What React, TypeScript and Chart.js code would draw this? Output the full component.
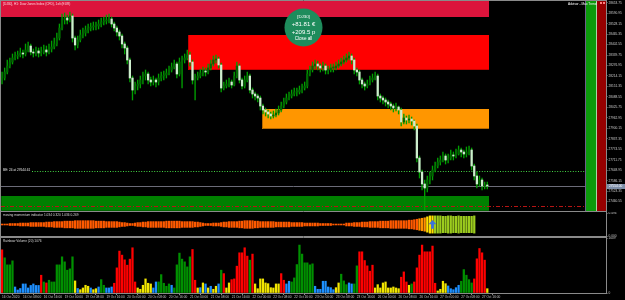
import React, { useEffect, useRef } from "react";
import { Chart, registerables } from "chart.js";

Chart.register(...registerables);

// ---------------- data ----------------
const timeLabels = [
  "16 Oct 2020", "16 Oct 08:00", "16 Oct 16:00", "19 Oct 00:00", "19 Oct 08:00", "19 Oct 16:00",
  "20 Oct 00:00", "20 Oct 08:00", "20 Oct 16:00", "21 Oct 00:00", "21 Oct 08:00", "21 Oct 16:00",
  "22 Oct 00:00", "22 Oct 08:00", "22 Oct 16:00", "23 Oct 00:00", "23 Oct 08:00", "23 Oct 16:00",
  "26 Oct 00:00", "26 Oct 08:00", "26 Oct 16:00", "27 Oct 00:00", "27 Oct 08:00", "27 Oct 16:00",
];
const barsPerTimeLabel = 8;

const priceTicks = [
  27460.55, 27523.35, 27586.15, 27648.95, 27711.75, 27774.55, 27837.35, 27900.15, 27962.95, 28025.75,
  28088.55, 28151.35, 28214.15, 28276.95, 28339.75, 28402.55, 28465.35, 28528.15, 28590.95, 28653.75,
];
const priceMin = 27404;
const priceMax = 28664;

const firstOpen = 28190;
const closes = [
  28202, 28238, 28274, 28298, 28322, 28334, 28340, 28352, 28346, 28370,
  28394, 28358, 28352, 28364, 28352, 28358, 28370, 28358, 28376, 28388,
  28406, 28442, 28502, 28550, 28562, 28550, 28574, 28442, 28400, 28430,
  28460, 28472, 28490, 28502, 28508, 28514, 28514, 28526, 28538, 28544,
  28550, 28556, 28526, 28502, 28478, 28454, 28406, 28382, 28310, 28202,
  28130, 28154, 28166, 28190, 28214, 28226, 28190, 28178, 28190, 28178,
  28202, 28214, 28220, 28232, 28250, 28268, 28286, 28226, 28298, 28310,
  28322, 28340, 28298, 28190, 28202, 28214, 28232, 28244, 28238, 28262,
  28286, 28310, 28316, 28280, 28142, 28154, 28166, 28178, 28160, 28214,
  28274, 28190, 28154, 28190, 28214, 28130, 28106, 28094, 28082, 28034,
  28010, 27998, 27986, 27974, 27980, 27992, 28010, 28034, 28058, 28082,
  28094, 28106, 28118, 28118, 28130, 28142, 28154, 28226, 28250, 28274,
  28286, 28274, 28262, 28274, 28250, 28250, 28262, 28262, 28274, 28286,
  28298, 28310, 28322, 28334, 28310, 28250, 28238, 28190, 28166, 28154,
  28166, 28190, 28202, 28214, 28094, 28082, 28070, 28058, 28046, 28034,
  28022, 28028, 28010, 27938, 27962, 27950, 27956, 27944, 27914, 27722,
  27638, 27566, 27542, 27590, 27614, 27650, 27674, 27698, 27710, 27734,
  27710, 27722, 27740, 27734, 27746, 27770, 27758, 27746, 27758, 27770,
  27674, 27614, 27566, 27590, 27554, 27560, 27554,
];
const highs = [
  28238, 28262, 28310, 28322, 28346, 28358, 28364, 28382, 28370, 28406,
  28418, 28406, 28376, 28388, 28382, 28388, 28400, 28394, 28406, 28424,
  28442, 28472, 28526, 28586, 28592, 28580, 28598, 28586, 28454, 28454,
  28490, 28502, 28514, 28526, 28532, 28538, 28538, 28550, 28562, 28568,
  28580, 28586, 28568, 28538, 28514, 28490, 28466, 28418, 28394, 28322,
  28214, 28178, 28190, 28214, 28238, 28250, 28238, 28208, 28214, 28202,
  28226, 28238, 28244, 28256, 28274, 28292, 28310, 28298, 28322, 28334,
  28346, 28370, 28358, 28310, 28226, 28238, 28256, 28268, 28262, 28286,
  28310, 28334, 28340, 28328, 28292, 28178, 28190, 28202, 28190, 28238,
  28298, 28286, 28202, 28214, 28238, 28226, 28142, 28118, 28106, 28094,
  28046, 28022, 28010, 27998, 28004, 28016, 28034, 28058, 28082, 28106,
  28118, 28130, 28142, 28142, 28154, 28166, 28178, 28250, 28274, 28298,
  28310, 28304, 28286, 28298, 28286, 28274, 28286, 28286, 28298, 28310,
  28322, 28334, 28346, 28358, 28346, 28322, 28262, 28250, 28202, 28178,
  28190, 28214, 28226, 28238, 28226, 28106, 28094, 28082, 28070, 28058,
  28046, 28052, 28034, 28022, 27986, 27974, 27980, 27968, 27950, 27926,
  27734, 27650, 27590, 27614, 27638, 27674, 27698, 27722, 27734, 27758,
  27746, 27746, 27770, 27758, 27776, 27794, 27782, 27770, 27788, 27794,
  27782, 27686, 27638, 27614, 27602, 27578, 27578,
];
const lows = [
  28166, 28190, 28226, 28262, 28286, 28310, 28316, 28328, 28322, 28334,
  28358, 28340, 28328, 28334, 28328, 28334, 28346, 28334, 28346, 28358,
  28376, 28394, 28430, 28490, 28526, 28526, 28538, 28418, 28370, 28382,
  28418, 28442, 28454, 28472, 28484, 28490, 28490, 28496, 28508, 28520,
  28526, 28532, 28508, 28484, 28454, 28430, 28382, 28346, 28286, 28178,
  28070, 28106, 28130, 28142, 28166, 28190, 28166, 28154, 28160, 28148,
  28160, 28184, 28190, 28202, 28220, 28238, 28256, 28202, 28214, 28142,
  28292, 28310, 28274, 28166, 28070, 28190, 28202, 28214, 28214, 28226,
  28250, 28274, 28292, 28262, 28118, 28130, 28142, 28148, 28142, 28154,
  28202, 28172, 28136, 28142, 28178, 28112, 28082, 28070, 28058, 28010,
  27986, 27974, 27962, 27956, 27962, 27968, 27980, 27998, 28022, 28046,
  28070, 28082, 28094, 28094, 28106, 28112, 28130, 28142, 28214, 28238,
  28256, 28250, 28238, 28244, 28226, 28226, 28238, 28238, 28250, 28262,
  28274, 28286, 28298, 28310, 28286, 28226, 28214, 28166, 28142, 28130,
  28142, 28160, 28178, 28190, 28070, 28058, 28046, 28034, 28022, 28010,
  27998, 28004, 27986, 27914, 27926, 27926, 27932, 27920, 27890, 27698,
  27602, 27530, 27410, 27518, 27566, 27590, 27638, 27662, 27680, 27698,
  27686, 27692, 27710, 27710, 27722, 27740, 27728, 27722, 27728, 27740,
  27650, 27590, 27542, 27554, 27530, 27536, 27536,
];

const volumes = [
  1264, 1029, 823, 823, 941, 176, 88, 132, 265, 265,
  147, 221, 265, 221, 221, 520, 323, 294, 373, 323,
  323, 823, 823, 1058, 911, 667, 706, 1058, 353, 132,
  97, 147, 226, 197, 147, 97, 126, 176, 391, 226,
  147, 147, 176, 285, 735, 1226, 1108, 970, 814, 991,
  1323, 323, 147, 109, 226, 412, 285, 265, 147, 323,
  323, 538, 285, 197, 265, 226, 147, 823, 1167, 991,
  911, 764, 1058, 1273, 373, 147, 156, 294, 265, 147,
  197, 109, 197, 265, 667, 567, 147, 294, 391, 412,
  785, 1176, 1176, 1323, 1079, 961, 1138, 265, 126, 412,
  412, 294, 273, 156, 147, 265, 265, 567, 373, 265,
  344, 323, 441, 832, 1402, 1138, 882, 882, 823, 853,
  197, 109, 109, 344, 344, 176, 156, 97, 156, 294,
  550, 353, 244, 294, 265, 265, 794, 1205, 1205, 950,
  794, 638, 814, 147, 244, 147, 294, 323, 147, 147,
  176, 147, 126, 462, 617, 323, 226, 265, 323, 735,
  1108, 1402, 1205, 1205, 1205, 1373, 285, 59, 109, 344,
  273, 206, 126, 97, 156, 226, 344, 685, 520, 391,
  294, 412, 1000, 1302, 1176, 961, 126,
];
// r = red, g = green, y = yellow, b = blue
const volumeColorCodes = [
  "rgggg", "bbbbbbbbbb", "rgr", "gggggggggg", "ybyyyybyyb", "ggbbb", "rrrrrrrrr", "yyyyyy",
  "bb", "ggggg", "b", "ggggggg", "rr", "ybybyb", "yyb", "gr", "yy", "rrrrrrr", "gr",
  "yyyyyyyyyy", "rr", "bb", "ggggggggg", "bbbbbbbb", "yy", "ggg", "bb", "gg", "rrrrrr",
  "yyyyyyyyyy", "rrr", "yg", "rrrrrrrrr", "yyyy", "bbbbb", "ggggg", "rrrrr", "y",
].join("");
const volumeAxisMax = 1609;

const momentum = [
  0.010, 0.010, 0.010, 0.021, 0.021, 0.021, 0.021, 0.031, 0.031, 0.031,
  0.031, 0.041, 0.041, 0.041, 0.041, 0.041, 0.041, 0.052, 0.052, 0.052,
  0.062, 0.062, 0.062, 0.062, 0.072, 0.072, 0.072, 0.072, 0.082, 0.082,
  0.082, 0.082, 0.082, 0.082, 0.082, 0.082, 0.072, 0.072, 0.072, 0.072,
  0.062, 0.062, 0.062, 0.062, 0.062, 0.052, 0.041, 0.041, 0.031, 0.021,
  0.021, 0.031, 0.041, 0.041, 0.052, 0.052, 0.062, 0.062, 0.062, 0.062,
  0.062, 0.062, 0.062, 0.072, 0.072, 0.072, 0.072, 0.072, 0.072, 0.062,
  0.062, 0.062, 0.062, 0.062, 0.052, 0.052, 0.041, 0.031, 0.021, 0.021,
  0.021, 0.031, 0.031, 0.031, 0.041, 0.052, 0.052, 0.062, 0.062, 0.062,
  0.062, 0.072, 0.072, 0.082, 0.082, 0.082, 0.082, 0.072, 0.072, 0.062,
  0.062, 0.062, 0.062, 0.062, 0.062, 0.052, 0.052, 0.052, 0.052, 0.052,
  0.052, 0.041, 0.041, 0.041, 0.041, 0.041, 0.031, 0.031, 0.031, 0.031,
  0.031, 0.031, 0.021, 0.021, 0.021, 0.021, 0.021, 0.010, 0.010, 0.010,
  0.010, 0.010, 0.031, 0.031, 0.031, 0.041, 0.041, 0.041, 0.052, 0.052,
  0.052, 0.062, 0.062, 0.062, 0.062, 0.072, 0.072, 0.072, 0.072, 0.082,
  0.082, 0.082, 0.082, 0.082, 0.082, 0.082, 0.093, 0.093, 0.103, 0.113,
  0.124, 0.134, 0.144, 0.165, 0.185, 0.185, 0.185, 0.185, 0.185, 0.175,
  0.175, 0.185, 0.185, 0.175, 0.175, 0.185, 0.175, 0.175, 0.175, 0.175,
  0.175, 0.185, 0, 0, 0, 0, 0,
];
// o = orange, a = amber, y = yellow, g = yellow-green, - = none
const momentumToneRuns: [string, number][] = [["o", 160], ["a", 3], ["y", 3], ["g", 16], ["-", 5]];
const momentumAxisMax = 0.494;
const signalArrowBar = 165;

const zoneStartBars = [-0.4, 71.2, 99.5, -0.4];
const zoneEndBars = [186.6, 186.6, 186.6, 186.6];
const zoneHighs = [28664, 28460, 28016, 27497];
const zoneLows = [28566, 28250, 27894, 27404];

const breakEvenPrice = 27644.61;
const breakEvenLots = 24;
const stopPrice = 27434;

const chartTitle = "[DJ30], H1: Dow Jones Index (CFD), 1xlt (EUR)";
const advisorTitle = "Advisor - Max Trend";
const momentumTitle = "moving momentum indicator 1.034 0.320 1.036 0.269";
const volumeTitle = "Rainbow Volume (20) 1076";
const bubbleLines = ["[DJ30]", "+81.81 \u20ac", "+209.5 p", "Close all"];

const barMin = -0.4;
const barMax = 231.5;

// ---------------- styles ----------------
const FONT = "'Liberation Sans', Arial, sans-serif";
const SMALL = 3.2;
const TICK_COLOR = "#c8c8c8";
const FRAME = "#8a8a8a";
const BULL = "#006a00";
const BEAR = "#cdeecd";
const WICK = "#00a000";
const ZONE_FILLS = ["#dc143c", "#ff0000", "#ff9600", "#008000"];
const ZONE_EDGES = [null, "#c80000", "#b86a00", "#006400"];
const VOLUME_COLORS: Record<string, string> = { r: "#ff0000", g: "#009000", y: "#f2e600", b: "#1e90ff" };
const TONE_COLORS: Record<string, string> = { o: "#ff5a00", a: "#ff9000", y: "#ffe000", g: "#9ccc1e" };
const AXIS_WIDTH = 19;

Chart.defaults.font.family = FONT;

function frameLines(ctx: any, a: any, withTop: boolean) {
  ctx.save();
  ctx.strokeStyle = FRAME;
  ctx.lineWidth = 1;
  ctx.beginPath();
  ctx.moveTo(0, a.bottom + 0.5);
  ctx.lineTo(a.right + 1, a.bottom + 0.5);
  ctx.moveTo(a.right + 0.5, 0);
  ctx.lineTo(a.right + 0.5, a.bottom + 1);
  ctx.moveTo(0.5, 0);
  ctx.lineTo(0.5, a.bottom + 1);
  if (withTop) {
    ctx.moveTo(0, 0.5);
    ctx.lineTo(a.right + 1, 0.5);
  }
  ctx.stroke();
  ctx.restore();
}

const mainOverlay = {
  id: "mainOverlay",
  beforeDatasetsDraw(chart: any) {
    const { ctx, chartArea: a, scales } = chart;
    const xs = scales.x;
    const ys = scales.y;
    ctx.save();
    ctx.beginPath();
    ctx.rect(a.left, a.top, a.right - a.left, a.bottom - a.top);
    ctx.clip();
    for (let k = 0; k < zoneStartBars.length; k++) {
      const x0 = Math.max(a.left, Math.round(xs.getPixelForValue(zoneStartBars[k])));
      const x1 = Math.round(xs.getPixelForValue(zoneEndBars[k]));
      const y0 = Math.round(ys.getPixelForValue(zoneHighs[k]));
      const y1 = Math.round(ys.getPixelForValue(zoneLows[k]));
      ctx.fillStyle = ZONE_FILLS[k];
      ctx.fillRect(x0, y0, x1 - x0, y1 - y0);
      const edge = ZONE_EDGES[k];
      if (edge) {
        ctx.strokeStyle = edge;
        ctx.lineWidth = 1;
        ctx.beginPath();
        ctx.moveTo(x0 + 0.5, y0);
        ctx.lineTo(x0 + 0.5, y1 - 0.5);
        ctx.lineTo(x1, y1 - 0.5);
        ctx.stroke();
      }
    }
    const lineEnd = a.right - 20;
    const hLine = (price: number, color: string, dash: number[], fromX: number) => {
      const yy = Math.round(ys.getPixelForValue(price)) + 0.5;
      ctx.strokeStyle = color;
      ctx.lineWidth = 1;
      ctx.setLineDash(dash);
      ctx.beginPath();
      ctx.moveTo(fromX, yy);
      ctx.lineTo(lineEnd, yy);
      ctx.stroke();
      ctx.setLineDash([]);
    };
    hLine(breakEvenPrice, "#45d645", [1, 1.6], a.left + 31);
    hLine(closes[closes.length - 1], "#6b6b78", [], a.left);
    hLine(stopPrice, "#b81414", [4, 2, 1, 2], a.left);
    ctx.restore();
  },
  afterDatasetsDraw(chart: any) {
    const { ctx, chartArea: a, scales } = chart;
    const ys = scales.y;
    ctx.save();
    ctx.textBaseline = "middle";
    ctx.textAlign = "left";
    ctx.font = `${SMALL}px ${FONT}`;
    ctx.fillStyle = "#ffd2dc";
    ctx.fillText(chartTitle, a.left + 2, 3.8);
    const beY = Math.round(ys.getPixelForValue(breakEvenPrice));
    ctx.fillStyle = "#e8e8e8";
    ctx.fillText(`BE: ${breakEvenLots} at ${breakEvenPrice.toFixed(2)}`, a.left + 2, beY - 0.8);

    // result bubble
    const cx = 303.5;
    const cy = 27.5;
    ctx.fillStyle = "#1e8c5c";
    ctx.beginPath();
    ctx.arc(cx, cy, 19, 0, Math.PI * 2);
    ctx.fill();
    ctx.fillStyle = "#ffffff";
    ctx.textAlign = "center";
    const sizes = [4.4, 6, 6, 4.6];
    const offs = [-10.8, -3.5, 4.8, 11.6];
    bubbleLines.forEach((t, k) => {
      ctx.font = `${sizes[k]}px ${FONT}`;
      ctx.fillText(t, cx, cy + offs[k]);
    });
    ctx.restore();
  },
  afterDraw(chart: any) {
    const { ctx, chartArea: a, scales } = chart;
    const W = chart.width;
    const r = W - AXIS_WIDTH; // right edge of the plot
    const top = 0;
    const h = a.bottom;
    ctx.save();
    ctx.globalAlpha = 1;
    ctx.globalCompositeOperation = "source-over";
    // advisor panel bands
    ctx.fillStyle = "rgb(110,95,138)";
    ctx.fillRect(r - 21, top, 1, h);
    ctx.fillStyle = "rgb(12,154,12)";
    ctx.fillRect(r - 20, top, 10, h);
    ctx.fillStyle = "rgb(166,216,166)";
    ctx.fillRect(r - 10, top, 1, h);
    ctx.fillStyle = "rgb(150,0,0)";
    ctx.fillRect(r - 9, top, 9, h);
    ctx.fillStyle = "#ffffff";
    ctx.font = `${SMALL}px ${FONT}`;
    ctx.textBaseline = "middle";
    ctx.textAlign = "left";
    ctx.fillText(advisorTitle, r - 38, 4.2);
    ctx.fillStyle = "#ff8080";
    ctx.fillRect(r - 6, 2, 2, 2);
    ctx.fillRect(r - 3, 2, 2, 2);
    ctx.restore();

    frameLines(ctx, a, true);
    const last = closes[closes.length - 1];
    const yy = Math.round(scales.y.getPixelForValue(last)) + 0.5;
    ctx.save();
    ctx.fillStyle = "#7d8ea8";
    ctx.fillRect(a.right + 1, yy - 2.5, W - a.right - 1, 5);
    ctx.fillStyle = "#ffffff";
    ctx.font = `${SMALL}px ${FONT}`;
    ctx.textBaseline = "middle";
    ctx.fillText(last.toFixed(2), a.right + 3, yy);
    ctx.restore();
  },
};

const momentumOverlay = {
  id: "momentumOverlay",
  afterDatasetsDraw(chart: any) {
    const { ctx, chartArea: a, scales } = chart;
    const ax = scales.x.getPixelForValue(signalArrowBar);
    const ay = scales.y.getPixelForValue(momentumAxisMax / 2);
    ctx.save();
    ctx.fillStyle = "#3c74dc";
    ctx.beginPath();
    ctx.moveTo(ax, ay - 4.6);
    ctx.lineTo(ax + 3.8, ay - 0.2);
    ctx.lineTo(ax + 1.4, ay - 0.2);
    ctx.lineTo(ax + 1.4, ay + 4.2);
    ctx.lineTo(ax - 1.4, ay + 4.2);
    ctx.lineTo(ax - 1.4, ay - 0.2);
    ctx.lineTo(ax - 3.8, ay - 0.2);
    ctx.closePath();
    ctx.fill();
    ctx.font = `${SMALL}px ${FONT}`;
    ctx.fillStyle = "#d8d8d8";
    ctx.textBaseline = "middle";
    ctx.fillText(momentumTitle, a.left + 2, 3.3);
    ctx.restore();
  },
  afterDraw(chart: any) {
    frameLines(chart.ctx, chart.chartArea, false);
  },
};

const volumeOverlay = {
  id: "volumeOverlay",
  afterDatasetsDraw(chart: any) {
    const { ctx, chartArea: a } = chart;
    ctx.save();
    ctx.font = `${SMALL}px ${FONT}`;
    ctx.fillStyle = "#d8d8d8";
    ctx.textBaseline = "middle";
    ctx.fillText(volumeTitle, a.left + 2, 4.2);
    ctx.restore();
  },
  afterDraw(chart: any) {
    frameLines(chart.ctx, chart.chartArea, true);
  },
};

function xAxis(display: boolean): any {
  const base: any = { type: "linear", min: barMin, max: barMax, offset: false, display, bounds: "data" };
  if (!display) return base;
  return {
    ...base,
    position: "bottom",
    afterBuildTicks: (s: any) => {
      s.ticks = timeLabels.map((_, k) => ({ value: k * barsPerTimeLabel }));
    },
    afterFit: (s: any) => {
      s.height = 7;
      s.paddingLeft = 0;
      s.paddingRight = 0;
    },
    ticks: {
      autoSkip: false,
      maxRotation: 0,
      minRotation: 0,
      align: "start",
      font: { size: SMALL },
      color: TICK_COLOR,
      padding: 0.5,
      callback: (v: any) => timeLabels[Math.round(Number(v) / barsPerTimeLabel)] ?? "",
    },
    grid: { display: true, drawOnChartArea: false, drawTicks: true, tickLength: 2, color: FRAME },
    border: { display: false },
  };
}

function yAxis(min: number, max: number, tickValues: number[], fmt: (v: number) => string): any {
  return {
    type: "linear",
    position: "right",
    min,
    max,
    bounds: "data",
    beginAtZero: false,
    afterBuildTicks: (s: any) => {
      s.ticks = tickValues.map((v) => ({ value: v }));
    },
    afterFit: (s: any) => {
      s.width = AXIS_WIDTH;
      s.paddingTop = 0;
      s.paddingBottom = 0;
    },
    ticks: { autoSkip: false, font: { size: SMALL }, color: TICK_COLOR, padding: 1, callback: (v: any) => fmt(Number(v)) },
    grid: { drawOnChartArea: false, drawTicks: true, tickLength: 1.5, color: FRAME },
    border: { display: false },
  };
}

const commonOptions = {
  animation: false,
  responsive: false,
  events: [],
  plugins: { legend: { display: false }, tooltip: { enabled: false } },
};

export default function App() {
  const mainRef = useRef<HTMLCanvasElement>(null);
  const momRef = useRef<HTMLCanvasElement>(null);
  const volRef = useRef<HTMLCanvasElement>(null);

  useEffect(() => {
    const opens = closes.map((c, i) => (i === 0 ? firstOpen : closes[i - 1]));
    const bodyData = closes.map((c, i) => ({ x: i, y: [opens[i], c] }));
    const wickData = closes.map((c, i) => ({
      x: i,
      y: [Math.min(lows[i], opens[i], c), Math.max(highs[i], opens[i], c)],
    }));
    const bodyColors = closes.map((c, i) => (c >= opens[i] ? BULL : BEAR));

    const main = new Chart(mainRef.current as HTMLCanvasElement, {
      type: "bar",
      data: {
        datasets: [
          { data: bodyData, backgroundColor: bodyColors, barThickness: 1.6, grouped: false, minBarLength: 1, order: 0 } as any,
          { data: wickData, backgroundColor: WICK, barThickness: 0.7, grouped: false, order: 1 } as any,
        ],
      },
      options: {
        ...commonOptions,
        layout: { padding: { top: 1, bottom: 1, left: 1, right: 0 } },
        scales: {
          x: xAxis(false),
          y: yAxis(priceMin, priceMax, priceTicks, (v) => v.toFixed(2)),
        },
      } as any,
      plugins: [mainOverlay],
    });

    const tones: string[] = [];
    momentumToneRuns.forEach(([t, n]) => {
      for (let k = 0; k < n; k++) tones.push(t);
    });
    const mid = momentumAxisMax / 2;
    const momData: any[] = [];
    const momColors: string[] = [];
    momentum.forEach((v, i) => {
      if (tones[i] === "-" || !v) return;
      momData.push({ x: i, y: [mid - v, mid + v] });
      momColors.push(TONE_COLORS[tones[i]]);
    });
    const mom = new Chart(momRef.current as HTMLCanvasElement, {
      type: "bar",
      data: { datasets: [{ data: momData, backgroundColor: momColors, barThickness: 1.6, grouped: false } as any] },
      options: {
        ...commonOptions,
        layout: { padding: { top: 1, bottom: 1, left: 1, right: 0 } },
        scales: {
          x: xAxis(false),
          y: yAxis(0, momentumAxisMax, [0, momentumAxisMax], (v) => v.toFixed(3)),
        },
      } as any,
      plugins: [momentumOverlay],
    });

    const vol = new Chart(volRef.current as HTMLCanvasElement, {
      type: "bar",
      data: {
        datasets: [
          {
            data: volumes.map((v, i) => ({ x: i, y: v })),
            backgroundColor: volumes.map((_, i) => VOLUME_COLORS[volumeColorCodes[i]] || "#1e90ff"),
            barThickness: 1.6,
            grouped: false,
          } as any,
        ],
      },
      options: {
        ...commonOptions,
        layout: { padding: { top: 1, bottom: 0, left: 1, right: 0 } },
        scales: {
          x: xAxis(true),
          y: yAxis(0, volumeAxisMax, [0, volumeAxisMax], (v) => String(Math.round(v))),
        },
      } as any,
      plugins: [volumeOverlay],
    });

    return () => {
      main.destroy();
      mom.destroy();
      vol.destroy();
    };
  }, []);

  return (
    <div style={{ position: "fixed", left: 0, top: 0, width: 625, height: 300, background: "#000", overflow: "hidden" }}>
      <canvas ref={mainRef} width={625} height={212} style={{ position: "absolute", left: 0, top: 0 }} />
      <canvas ref={momRef} width={625} height={25} style={{ position: "absolute", left: 0, top: 212 }} />
      <canvas ref={volRef} width={625} height={63} style={{ position: "absolute", left: 0, top: 237 }} />
    </div>
  );
}
